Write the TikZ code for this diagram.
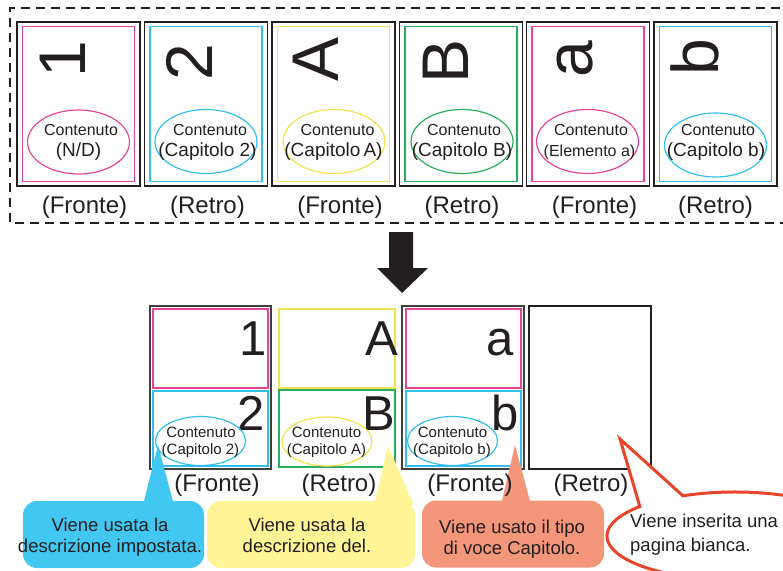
\documentclass[tikz,border=0pt]{standalone}
\usepackage{fontspec}
\setmainfont{Liberation Sans}
\usetikzlibrary{shapes.geometric, positioning}
\definecolor{InkBlack}{RGB}{35,31,32}
\definecolor{PinkLine}{RGB}{232,68,150}
\definecolor{CyanLine}{RGB}{52,190,236}
\definecolor{YellowLine}{RGB}{240,226,80}
\definecolor{GreenLine}{RGB}{44,172,92}
\definecolor{BlueNote}{RGB}{66,199,242}
\definecolor{YellowNote}{RGB}{255,245,150}
\definecolor{SalmonNote}{RGB}{244,150,122}
\definecolor{RedNote}{RGB}{232,70,42}

\begin{document}
\begin{tikzpicture}[
    x=1pt, y=-1pt,
    sheet/.style={draw=InkBlack, line width=1.2pt, minimum width=123pt, minimum height=164pt, inner sep=0pt},
    face/.style={draw=#1, line width=1.3pt, minimum width=112pt, minimum height=155pt, inner sep=0pt},
    half/.style={draw=#1, line width=1.3pt, minimum width=115pt, minimum height=78pt, inner sep=0pt},
    oval/.style={ellipse, draw=#1, line width=1.2pt, minimum width=102pt, minimum height=64pt, inner sep=0pt},
    smalloval/.style={ellipse, draw=#1, line width=1.2pt, minimum width=90pt, minimum height=49pt, inner sep=0pt},
    turned/.style={font=\fontsize{66}{66}\selectfont, text=InkBlack, rotate=90, anchor=base east, inner sep=0pt},
    upright/.style={font=\fontsize{49}{49}\selectfont, text=InkBlack, anchor=base east, inner sep=0pt},
    topline/.style={font=\fontsize{16}{16}\selectfont, text=InkBlack, anchor=base, inner sep=0pt},
    subline/.style={font=\fontsize{19}{19}\selectfont, text=InkBlack, anchor=base, inner sep=0pt},
    tinyline/.style={font=\fontsize{15}{15}\selectfont, text=InkBlack, anchor=base, inner sep=0pt},
    sidelabel/.style={font=\fontsize{24}{24}\selectfont, text=InkBlack, anchor=base, inner sep=0pt},
    note/.style={fill=#1, rounded corners=14pt, minimum height=67pt, inner sep=0pt},
    notetext/.style={anchor=base, align=center, inner sep=0pt, text=InkBlack, font=\fontsize{18.5}{21}\selectfont}
]
\clip (0,0) rectangle (783,570);

% source pages
\draw[InkBlack, line width=2.2pt, dash pattern=on 9pt off 6pt] (795,8) -- (10,8) -- (10,223) -- (795,223);

\node[sheet] (s1) at (78.5,104) {};
\node[face=PinkLine] (f1) at (s1.center) {};
\node[sheet] (s2) at (206,104) {};
\node[face=CyanLine] (f2) at (s2.center) {};
\node[sheet] (s3) at (333.5,104) {};
\node[face=YellowLine] (f3) at (s3.center) {};
\node[sheet] (s4) at (461,104) {};
\node[face=GreenLine] (f4) at (s4.center) {};
\node[sheet] (s5) at (588,104) {};
\node[face=PinkLine] (f5) at (s5.center) {};
\node[sheet] (s6) at (715.5,104) {};
\node[face=CyanLine] (f6) at (s6.center) {};

\node[turned] (c1) at (85,41) {1};
\node[turned] (c2) at (212,44) {2};
\node[turned] (c3) at (338,37) {A};
\node[turned] (c4) at (468,39) {B};
\node[turned] (c5) at (592,41) {a};
\node[turned] (c6) at (718,39) {b};

\node[oval=PinkLine] (o1) at (78.5,142) {};
\node[oval=CyanLine] (o2) at (206,141.5) {};
\node[oval=YellowLine] (o3) at (334,141.5) {};
\node[oval=GreenLine] (o4) at (462,141.5) {};
\node[oval=PinkLine] (o5) at (587.5,141.5) {};
\node[oval=CyanLine] (o6) at (715.5,145) {};

\node[topline] (t1) at (81,135) {Contenuto};
\node[subline] (u1) at (78.5,156) {(N/D)};
\node[topline] (t2) at (210,135) {Contenuto};
\node[subline] (u2) at (207.5,156) {(Capitolo 2)};
\node[topline] (t3) at (337.5,135) {Contenuto};
\node[subline] (u3) at (333.5,156) {(Capitolo\,A)};
\node[topline] (t4) at (464,135) {Contenuto};
\node[subline] (u4) at (462,156) {(Capitolo B)};
\node[topline] (t5) at (591,135) {Contenuto};
\node[topline] (u5) at (589.5,156) {(Elemento a)};
\node[topline] (t6) at (718,135) {Contenuto};
\node[subline] (u6) at (716,156) {(Capitolo b)};

\node[sidelabel] (l1) at (84.5,213) {(Fronte)};
\node[sidelabel] (l2) at (207.5,213) {(Retro)};
\node[sidelabel] (l3) at (340,213) {(Fronte)};
\node[sidelabel] (l4) at (462,213) {(Retro)};
\node[sidelabel] (l5) at (594.5,213) {(Fronte)};
\node[sidelabel] (l6) at (715.5,213) {(Retro)};

% arrow
\fill[InkBlack] (389,232) -- (413,232) -- (413,268) -- (428,268) -- (402,293) -- (377,268) -- (389,268) -- cycle;

% printed sheets
\node[sheet, draw=black!75, line width=1.6pt, minimum width=121pt, minimum height=163pt] (p1) at (210.5,387.5) {};
\node[half=PinkLine, minimum height=79pt] (h1) at (210.5,348.5) {};
\node[half=CyanLine, minimum height=75pt] (k1) at (210.5,428.5) {};
\node[half=YellowLine, minimum width=116pt, minimum height=79pt] (h2) at (337,348.5) {};
\node[half=GreenLine, minimum width=116pt, minimum height=77pt] (k2) at (337,428.5) {};
\node[sheet, draw=black!75, line width=1.6pt, minimum width=122pt, minimum height=163pt] (p3) at (463,387.5) {};
\node[half=PinkLine, minimum height=79pt] (h3) at (463.5,348.5) {};
\node[half=CyanLine, minimum height=75pt] (k3) at (463.5,428.5) {};
\node[sheet, minimum width=122pt, minimum height=163pt] (p4) at (590,387.5) {};

\node[upright] (b1) at (267,355) {1};
\node[upright] (b2) at (398,355) {A};
\node[upright] (b3) at (514,355) {a};
\node[upright] (b4) at (265,430) {2};
\node[upright] (b5) at (395.5,430) {B};
\node[upright] (b6) at (519,430) {b};

% notes
\node[note=BlueNote, minimum width=181pt] (nb) at (113.5,534.5) {};
\node[note=YellowNote, minimum width=208pt] (ny) at (311,534.5) {};
\node[note=SalmonNote, minimum width=182pt] (ns) at (513,534) {};
\coordinate (tb) at (158,445);
\coordinate (ty) at (388,446);
\coordinate (ts) at (515,445);
\coordinate (tr) at (620,439);
\fill[BlueNote] (143,505) -- (tb) -- (174,505) -- cycle;
\fill[YellowNote] (374,505) -- (ty) -- (414,505) -- cycle;
\fill[SalmonNote] (501,505) -- (ts) -- (531,505) -- cycle;
\draw[RedNote, line width=3pt, fill=white] (682.9,495.8) arc[start angle=-114, end angle=222, x radius=128, y radius=44] -- (tr) -- cycle;

\node[notetext] (xb) at (110,552) {Viene usata la\\descrizione impostata.};
\node[notetext] (xy) at (307,552) {Viene usata la\\descrizione del.};
\node[notetext] (xs) at (512,554) {Viene usato il tipo\\di voce Capitolo.};
\node[anchor=base west, align=left, inner sep=0pt, text=InkBlack, font=\fontsize{18.5}{24}\selectfont] (xr) at (630,551) {Viene inserita una\\pagina bianca.};

\node[smalloval=CyanLine] (e1) at (200.5,441) {};
\node[smalloval=YellowLine] (e2) at (327,441.5) {};
\node[smalloval=CyanLine] (e3) at (452.5,441) {};
\node[tinyline] (m1) at (201,437) {Contenuto};
\node[tinyline] (q1) at (200.5,454) {(Capitolo 2)};
\node[tinyline] (m2) at (326.5,437) {Contenuto};
\node[tinyline] (q2) at (326.5,454) {(Capitolo A)};
\node[tinyline] (m3) at (452.5,437) {Contenuto};
\node[tinyline] (q3) at (452,454) {(Capitolo b)};

\node[sidelabel] (r1) at (217,491) {(Fronte)};
\node[sidelabel] (r2) at (339,491) {(Retro)};
\node[sidelabel] (r3) at (470,491) {(Fronte)};
\node[sidelabel] (r4) at (591,491) {(Retro)};
\end{tikzpicture}
\end{document}
